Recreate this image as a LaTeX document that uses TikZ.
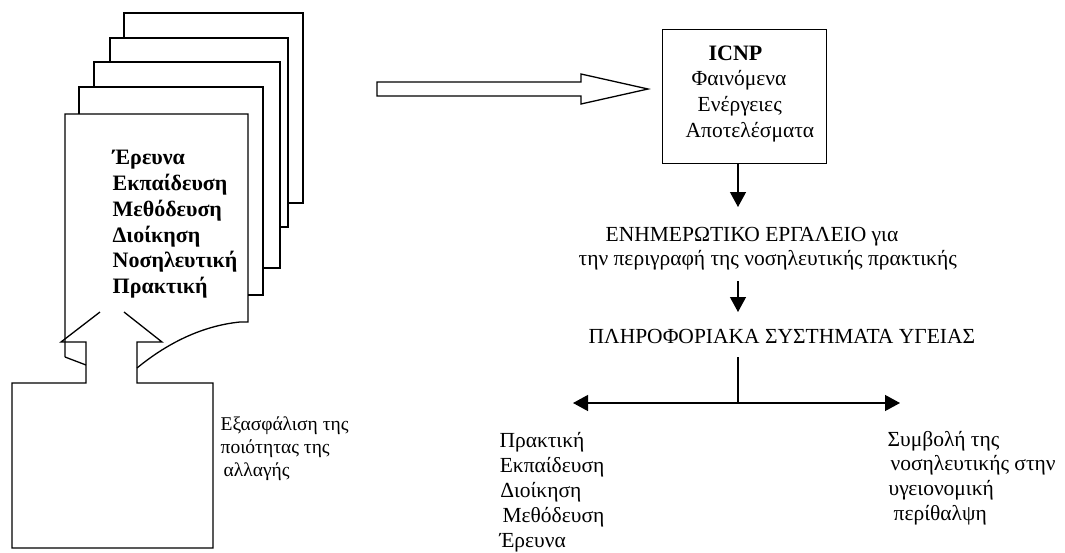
\documentclass[tikz,border=0pt]{standalone}
\usepackage{fontspec}
\setmainfont{Liberation Serif}
\usetikzlibrary{arrows.meta}
\begin{document}
\begin{tikzpicture}[x=1pt,y=-1pt, line width=1.3pt, line join=miter,
  txt/.style={anchor=base west, inner sep=0pt, font=\fontsize{21.5}{26}\selectfont},
  rtxt/.style={anchor=base east, inner sep=0pt, font=\fontsize{21.5}{26}\selectfont},
  btxt/.style={anchor=base west, inner sep=0pt, font=\fontsize{22}{26}\selectfont\bfseries},
  stxt/.style={anchor=base west, inner sep=0pt, font=\fontsize{19.5}{23}\selectfont},
  page/.style={draw, fill=white},
  arr/.style={-{Triangle[length=15pt,width=16pt]}},
  darr/.style={{Triangle[length=15pt,width=16pt]}-{Triangle[length=15pt,width=16pt]}}
]
\useasboundingbox (0,0) rectangle (1065,552);
% stacked pages
\draw[page] (124,13) rectangle (303,203);
\draw[page] (110,38) rectangle (288,227);
\draw[page] (94,62) rectangle (280,268);
\draw[page] (79,87) rectangle (263,295);
\fill[white] (65,114) rectangle (248,322);
\draw (65,357) -- (65,114) -- (248,114) -- (248,322) -- (240,322)
      .. controls (200,326) and (165,345) .. (137,368);
\draw (65,357) -- (86,365);
% upward block arrow with box
\draw (100,312) -- (61,342) -- (86,342) -- (86,383) -- (12,383) -- (12,548)
      -- (213,548) -- (213,383) -- (137,383) -- (137,342) -- (162,342) -- (124,312);
% page text
\node[btxt] (p1) at (112,164) {Έρευνα};
\node[btxt] (p2) at (112,190) {Εκπαίδευση};
\node[btxt] (p3) at (112,216) {Μεθόδευση};
\node[btxt] (p4) at (112,242) {Διοίκηση};
\node[btxt] (p5) at (112,267) {Νοσηλευτική};
\node[btxt] (p6) at (112,293) {Πρακτική};
% quality text
\node[stxt] (q1) at (220,430) {Εξασφάλιση της};
\node[stxt] (q2) at (220,453) {ποιότητας της};
\node[stxt] (q3) at (223,476) {αλλαγής};
% hollow arrow
\draw (377,82) -- (581,82) -- (581,74) -- (648,89) -- (581,104) -- (581,96) -- (377,96) -- cycle;
% ICNP box
\node[draw, minimum width=164pt, minimum height=134pt, inner sep=0pt, anchor=north west] (icnp) at (662,29) {};
\node[btxt] (i1) at (708,60) {ICNP};
\node[txt] (i2) at (691,85) {Φαινόμενα};
\node[txt] (i3) at (697,111) {Ενέργειες};
\node[txt] (i4) at (685,137) {Αποτελέσματα};
% arrow 1
\coordinate (t1) at (738,207);
\draw[arr] (icnp.south -| t1) -- (t1);
\node[txt] (e1) at (605,241) {ΕΝΗΜΕΡΩΤΙΚΟ ΕΡΓΑΛΕΙΟ για};
\node[txt] (e2) at (578,265) {την περιγραφή της νοσηλευτικής πρακτικής};
% arrow 2
\coordinate (s2) at (738,281);
\coordinate (t2) at (738,312);
\draw[arr] (s2) -- (t2);
\node[txt] (h1) at (588,343) {ΠΛΗΡΟΦΟΡΙΑΚΑ ΣΥΣΤΗΜΑΤΑ ΥΓΕΙΑΣ};
% split
\coordinate (v1) at (738,357);
\coordinate (j) at (738,403);
\coordinate (l) at (573,403);
\coordinate (r) at (900,403);
\draw (v1) -- (j);
\draw[darr] (l) -- (r);
% left list
\node[rtxt] (a1) at (585,447) {Πρακτική};
\node[rtxt] (a2) at (605,472) {Εκπαίδευση};
\node[rtxt] (a3) at (582,497) {Διοίκηση};
\node[rtxt] (a4) at (605,522) {Μεθόδευση};
\coordinate (y5) at (0,547);
\node[txt] (a5) at (a1.base west |- y5) {Έρευνα};
% right list
\node[txt] (b1) at (887,446) {Συμβολή της};
\node[txt] (b2) at (890,470) {νοσηλευτικής στην};
\node[txt] (b3) at (888,495) {υγειονομική};
\node[txt] (b4) at (893,520) {περίθαλψη};
\end{tikzpicture}
\end{document}
